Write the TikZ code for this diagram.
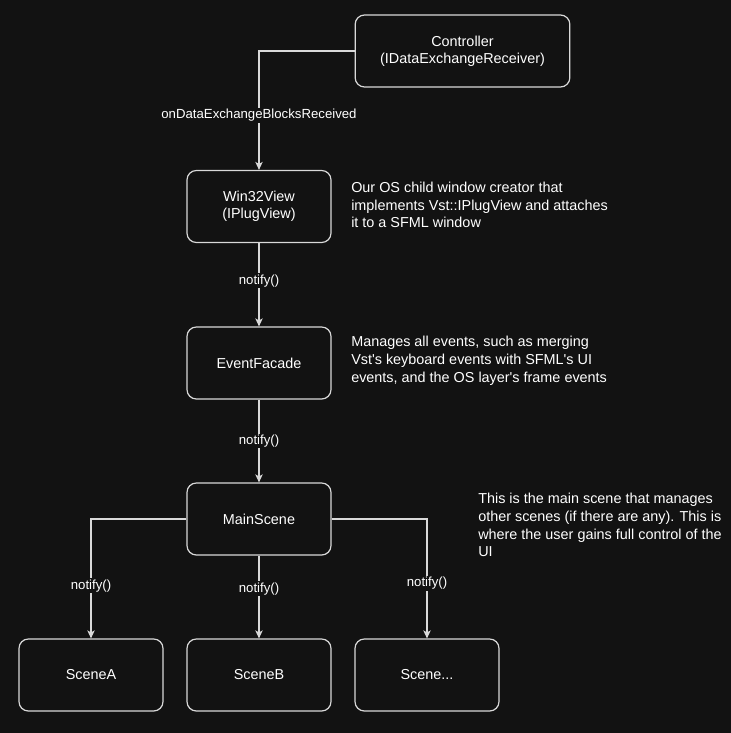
\documentclass[tikz,border=0pt]{standalone}
\usepackage{fontspec}
\setmainfont{Liberation Sans}
\usetikzlibrary{arrows.meta}
\definecolor{canvas}{HTML}{121212}
\definecolor{wire}{HTML}{D9D9D9}
\begin{document}
\begin{tikzpicture}[x=0.75pt, y=-0.75pt,
        box/.style={rectangle, draw=wire, rounded corners=7pt, line width=0.9pt, text=white, font=\fontsize{10.8}{13}\selectfont, minimum width=108pt, minimum height=54pt, align=center},
        note/.style={anchor=west, text=white, font=\fontsize{10.8}{13.3}\selectfont, align=left, inner sep=0pt},
        link/.style={draw=wire, line width=0.9pt, -{Stealth[length=6pt, width=5.5pt, inset=1.5pt]}},
        tag/.style={fill=canvas, text=white, font=\fontsize{9.9}{11}\selectfont, inner sep=1pt}
    ]
        \fill[canvas] (0,0) rectangle (731,733);
        \useasboundingbox (0,0) rectangle (731,733);

        \node[box, minimum width=161pt] (ctrl) at (462.5,51) {Controller\\(IDataExchangeReceiver)};
        \node[box] (win) at (259,206.5) {Win32View\\(IPlugView)};
        \node[box] (facade) at (259,363) {EventFacade};
        \node[box] (main) at (259,519) {MainScene};
        \node[box] (sceneA) at (91,675) {SceneA};
        \node[box] (sceneB) at (259,675) {SceneB};
        \node[box] (sceneC) at (427,675) {Scene...};

        \node[note] (winNote) at (351,205) {Our OS child window creator that\\implements Vst::IPlugView and attaches\\it to a SFML window};
        \node[note] (facadeNote) at (351,361) {Manages all events, such as merging\\Vst\textquotesingle s keyboard events with SFML\textquotesingle s UI\\events, and the OS layer\textquotesingle s frame events};
        \node[note] (mainNote) at (478,525) {This is the main scene that manages\\other scenes (if there are any). This is\\where the user gains full control of the\\UI};

        \draw[link] (ctrl.west) -| node[tag, pos=0.77] {onDataExchangeBlocksReceived} (win.north);
        \draw[link] (win) -- node[tag, pos=0.45] {notify()} (facade);
        \draw[link] (facade) -- node[tag] {notify()} (main);
        \draw[link] (main.west) -| node[tag, pos=0.78] {notify()} (sceneA.north);
        \draw[link] (main) -- node[tag, pos=0.4] {notify()} (sceneB);
        \draw[link] (main.east) -| node[tag, pos=0.77] {notify()} (sceneC.north);
    \end{tikzpicture}
\end{document}
